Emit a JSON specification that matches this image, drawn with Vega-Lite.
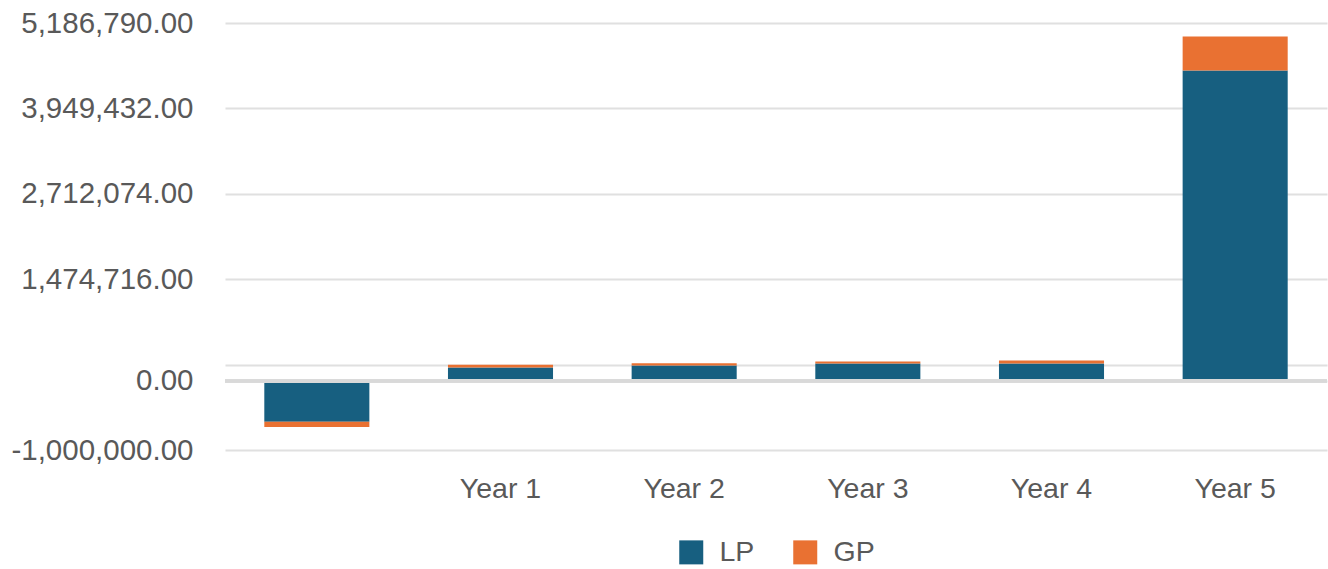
{
  "$schema": "https://vega.github.io/schema/vega-lite/v6.json",
  "width": 1102,
  "height": 427,
  "autosize": {"type": "none"},
  "padding": {"left": 225, "top": 23, "right": 1, "bottom": 119},
  "background": "white",
  "config": {
    "view": {"stroke": null},
    "font": "Liberation Sans",
    "axis": {"labelFont": "Liberation Sans", "labelColor": "#595959", "labelFontSize": 28}
  },
  "data": {
    "values": [
      {"period": "Year 0", "series": "LP", "value": -590000},
      {"period": "Year 0", "series": "GP", "value": -75000},
      {"period": "Year 1", "series": "LP", "value": 196000},
      {"period": "Year 1", "series": "GP", "value": 40000},
      {"period": "Year 2", "series": "LP", "value": 225000},
      {"period": "Year 2", "series": "GP", "value": 33000},
      {"period": "Year 3", "series": "LP", "value": 254000},
      {"period": "Year 3", "series": "GP", "value": 29000},
      {"period": "Year 4", "series": "LP", "value": 254000},
      {"period": "Year 4", "series": "GP", "value": 43000},
      {"period": "Year 5", "series": "LP", "value": 4500000},
      {"period": "Year 5", "series": "GP", "value": 493000}
    ]
  },
  "layer": [
    {
      "mark": {"type": "bar"},
      "encoding": {
        "x": {
          "field": "period",
          "type": "nominal",
          "sort": null,
          "scale": {"paddingInner": 0.428, "paddingOuter": 0.214},
          "axis": {
            "title": null,
            "domain": false,
            "ticks": false,
            "labelAngle": 0,
            "labelPadding": 24,
            "labelFontSize": 28.5,
            "labelExpr": "datum.value == 'Year 0' ? '' : datum.value"
          }
        },
        "y": {
          "field": "value",
          "type": "quantitative",
          "stack": "zero",
          "scale": {"domain": [-1000000, 5186790], "nice": false, "zero": false},
          "axis": {
            "title": null,
            "domain": false,
            "ticks": false,
            "values": [-1000000, 0, 237358, 1474716, 2712074, 3949432, 5186790],
            "labelExpr": "datum.value == 237358 ? '' : replace(format(datum.value, ',.2f'), '\u2212', '-')",
            "labelPadding": 32,
            "labelFontSize": 29.5,
            "labelLimit": 400,
            "gridColor": "#e0e0e0",
            "gridWidth": 2
          }
        },
        "color": {
          "field": "series",
          "type": "nominal",
          "scale": {"domain": ["LP", "GP"], "range": ["#175F80", "#E97132"]},
          "legend": {
            "title": null,
            "orient": "none",
            "direction": "horizontal",
            "legendX": 452,
            "legendY": 515,
            "symbolType": "square",
            "symbolSize": 576,
            "symbolStrokeWidth": 0,
            "labelFontSize": 28.5,
            "labelColor": "#595959",
            "labelFont": "Liberation Sans",
            "labelOffset": 14,
            "columnPadding": 36
          }
        },
        "order": {"field": "series", "sort": "descending"}
      }
    },
    {
      "mark": {"type": "rule", "color": "#d9d9d9", "strokeWidth": 3},
      "encoding": {"y": {"datum": 0}}
    }
  ]
}
